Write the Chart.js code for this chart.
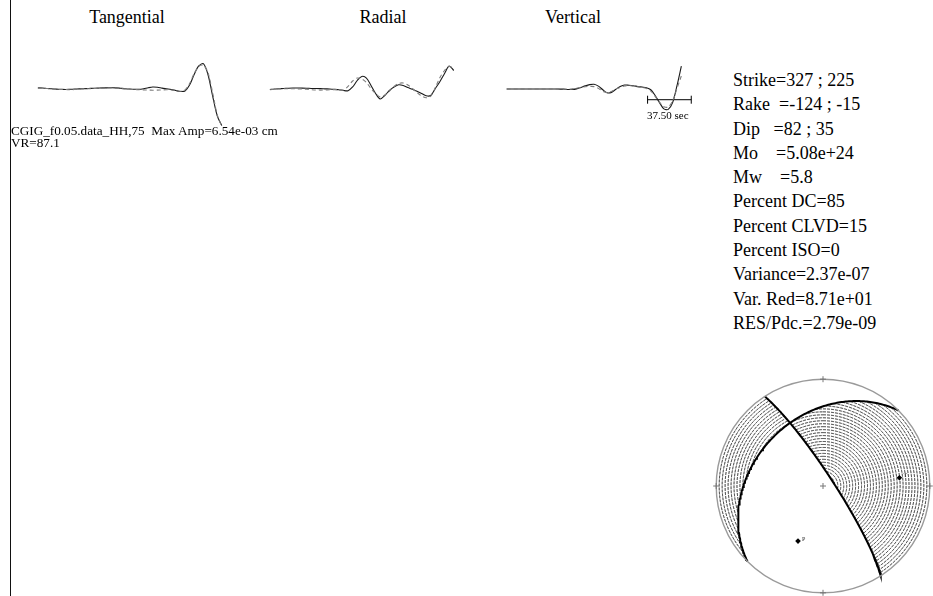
<!DOCTYPE html>
<html>
<head>
<meta charset="utf-8">
<title>CGIG moment tensor solution</title>
<script src="https://cdn.jsdelivr.net/npm/chart.js@4.4.1/dist/chart.umd.min.js"></script>
<style>
  html, body { margin: 0; padding: 0; background: #fff; overflow: hidden; width: 933px; height: 596px; }
  body { position: relative; font-family: "Liberation Serif", "Times New Roman", serif; color: #000; }
  .lbl { position: absolute; white-space: pre; line-height: 1; }
  .ttl { position: absolute; width: 200px; text-align: center; font-size: 18px; line-height: 1; }
  canvas { position: absolute; }
  #axisLine { position: absolute; left: 10px; top: 0; width: 1px; height: 596px; background: #111; }
</style>
</head>
<body>
<div id="axisLine"></div>

<div class="ttl" style="left:27px;top:8px">Tangential</div>
<div class="ttl" style="left:283px;top:8px">Radial</div>
<div class="ttl" style="left:473px;top:8px">Vertical</div>

<canvas id="tanChart" width="201" height="92" style="left:33px;top:42px"></canvas>
<canvas id="radChart" width="201" height="92" style="left:265px;top:43px"></canvas>
<canvas id="verChart" width="201" height="92" style="left:497px;top:43px"></canvas>

<div id="scaleLbl" class="lbl" style="left:647px;top:110px;font-size:11px"></div>
<div id="stationLbl" class="lbl" style="left:11px;top:125px;font-size:13.2px;line-height:11.5px"></div>
<div id="solutionLbl" class="lbl" style="left:733px;top:68px;font-size:18px;line-height:24.3px"></div>

<canvas id="ballChart" width="226" height="226" style="left:710px;top:373px"></canvas>

<script>
// ---- Source parameters (two nodal planes) ----
const strike = [327, 225];
const rake = [-124, -15];
const dip = [82, 35];
const momentDyneCm = '5.08e+24';
const magnitudeMw = '5.8';
const percentDC = 85;
const percentCLVD = 15;
const percentISO = 0;
const variance = '2.37e-07';
const varReduction = '8.71e+01';
const resPdc = '2.79e-09';

// ---- Station record ----
const stationName = 'CGIG_f0.05.data_HH,75';
const maxAmp = '6.54e-03';
const stationVR = '87.1';
const scaleBarSec = 37.5;
const scaleBarStart = 121;     // s, along the vertical trace
const scaleBarLevel = -2.09;   // amplitude level of the bar

// Sample times (s) shared by all traces
const timeSec = [0, 3.75, 7.5, 11.25, 15, 18.75, 22.5, 26.25, 30, 33.75, 37.5, 41.25, 45, 48.75,
  52.5, 56.25, 60, 63.75, 67.5, 71.25, 75, 78.75, 82.5, 86.25, 90, 93.75, 97.5, 101.25, 105,
  108.75, 112.5, 116.25, 120, 123.75, 127.5, 131.25, 135, 138.75, 142.5, 146.25, 150];

// Displacement, 1e-3 cm: observed (solid) and synthetic (dashed)
const tanObs = [0.03, 0, -0.09, -0.14, -0.19, -0.23, -0.26, -0.23, -0.19, -0.16, -0.12, -0.09, -0.05,
  -0.02, 0.02, 0.03, 0.05, 0.02, -0.05, -0.12, -0.17, -0.21, -0.23, -0.12, 0.05, 0.17, 0.12, -0.02,
  -0.14, -0.26, -0.44, -0.61, -0.52, 0.52, 2.35, 3.83, 4.23, 2.35, -1.31, -4.79, -6.54];
const tanSyn = [0.03, -0.02, -0.09, -0.17, -0.23, -0.26, -0.26, -0.30, -0.26, -0.21, -0.16, -0.12,
  -0.09, -0.05, -0.02, 0, 0, -0.03, -0.09, -0.16, -0.23, -0.26, -0.30, -0.33, -0.37, -0.38, -0.37,
  -0.33, -0.31, -0.35, -0.47, -0.57, -0.35, 0.78, 2.52, 3.74, 3.97, 2.70, -0.78, -4.61, -6.70];

const radObs = [-0.09, 0, 0.05, 0.09, 0.14, 0.17, 0.17, 0.16, 0.14, 0.10, 0.09, 0.07, 0.03, 0,
  -0.05, -0.12, -0.26, -0.30, 0.35, 1.48, 2.18, 1.91, 0.61, -0.78, -1.74, -1.13, -0.26, 0.35, 0.73,
  0.61, 0.26, -0.05, -0.40, -0.78, -1.18, -1.13, 0.09, 1.31, 2.70, 4.00, 3.22];
const radSyn = [-0.14, -0.05, 0.02, 0.03, 0.05, 0.05, 0.03, 0, -0.05, -0.12, -0.17, -0.19, -0.17,
  -0.12, -0.10, -0.12, -0.17, 0.44, 1.39, 1.91, 1.74, 1.13, 0.09, -0.78, -1.39, -1.04, -0.35, 0.44,
  0.96, 1.04, 0.70, 0.09, -0.61, -1.22, -1.53, -1.22, 0.26, 2.00, 3.22, 3.92, 3.57];

const verObs = [0, 0, 0, 0, 0, 0, 0, 0, 0, 0, 0, 0, -0.02, -0.03, -0.10, -0.10, 0.02, 0.30, 0.61,
  0.85, 0.92, 0.56, -0.14, -0.75, -0.66, -0.05, 0.47, 0.77, 0.73, 0.64, 0.50, 0.38, 0.26, -0.14,
  -1.27, -2.66, -3.88, -3.97, -2.66, 0.64, 4.47];
const verSyn = [0, 0, 0, 0, 0, 0, 0, 0, 0, 0, 0, -0.02, -0.03, -0.05, -0.05, 0.03, 0.17, 0.33, 0.44,
  0.50, 0.47, 0.12, -0.45, -0.71, -0.49, 0.03, 0.30, 0.59, 0.68, 0.56, 0.42, 0.30, 0.12, -0.40,
  -1.44, -2.58, -3.45, -3.53, -2.31, 0.12, 2.56];

// ---- Labels ----
document.getElementById('scaleLbl').textContent = scaleBarSec.toFixed(2) + ' sec';
document.getElementById('stationLbl').textContent =
  stationName + '  Max Amp=' + maxAmp + ' cm\nVR=' + stationVR;
document.getElementById('solutionLbl').textContent = [
  'Strike=' + strike[0] + ' ; ' + strike[1],
  'Rake  =' + rake[0] + ' ; ' + rake[1],
  'Dip   =' + dip[0] + ' ; ' + dip[1],
  'Mo    =' + momentDyneCm,
  'Mw    =' + magnitudeMw,
  'Percent DC=' + percentDC,
  'Percent CLVD=' + percentCLVD,
  'Percent ISO=' + percentISO,
  'Variance=' + variance,
  'Var. Red=' + varReduction,
  'RES/Pdc.=' + resPdc
].join('\n');

// ---- Waveform panels ----
const pairs = (ys) => timeSec.map((t, i) => ({ x: t, y: ys[i] }));

function traceChart(id, obs, syn, extra) {
  const datasets = [
    { data: pairs(syn), borderColor: '#7d7d7d', borderWidth: 1.1, borderDash: [4, 3], tension: 0.3 },
    { data: pairs(obs), borderColor: '#1a1a1a', borderWidth: 1.1, tension: 0.3 }
  ].concat(extra || []);
  return new Chart(document.getElementById(id), {
    type: 'scatter',
    data: { datasets },
    options: {
      responsive: false,
      animation: false,
      showLine: true,
      layout: { padding: 0 },
      elements: { point: { radius: 0, hoverRadius: 0 } },
      plugins: { legend: { display: false }, tooltip: { enabled: false } },
      scales: {
        x: { type: 'linear', min: -4, max: 160, display: false },
        y: { type: 'linear', min: -8, max: 8, display: false }
      }
    }
  });
}

traceChart('tanChart', tanObs, tanSyn);
traceChart('radChart', radObs, radSyn);
traceChart('verChart', verObs, verSyn, [{
  data: [{ x: scaleBarStart, y: scaleBarLevel }, { x: scaleBarStart + scaleBarSec, y: scaleBarLevel }],
  borderColor: '#000', borderWidth: 1, tension: 0,
  pointStyle: 'line', rotation: 90, pointRadius: 4, pointBorderColor: '#000', pointBorderWidth: 1
}]);

// ---- Focal mechanism (lower hemisphere, equal area) ----
const D2R = Math.PI / 180;

// Fault normal and slip vectors in (North, East, Down)
function faultVectors(phi, del, lam) {
  const f = phi * D2R, d = del * D2R, l = lam * D2R;
  const n = [-Math.sin(d) * Math.sin(f), Math.sin(d) * Math.cos(f), -Math.cos(d)];
  const s = [
    Math.cos(l) * Math.cos(f) + Math.cos(d) * Math.sin(l) * Math.sin(f),
    Math.cos(l) * Math.sin(f) - Math.cos(d) * Math.sin(l) * Math.cos(f),
    -Math.sin(l) * Math.sin(d)
  ];
  return { n, s };
}
const dot = (a, b) => a[0] * b[0] + a[1] * b[1] + a[2] * b[2];

// Ray direction (N,E,D) -> projected point (x east, y north)
function project(g) {
  let v = g;
  if (v[2] < 0) v = [-v[0], -v[1], -v[2]];
  const len = Math.hypot(v[0], v[1], v[2]);
  const plunge = Math.asin(Math.min(1, v[2] / len));
  const az = Math.atan2(v[1], v[0]);
  const r = Math.SQRT2 * Math.sin((Math.PI / 2 - plunge) / 2);
  return { x: r * Math.sin(az), y: r * Math.cos(az) };
}
// Projected point -> ray direction
function unproject(x, y) {
  const r = Math.hypot(x, y);
  const inc = 2 * Math.asin(Math.min(1, r / Math.SQRT2));
  const az = Math.atan2(x, y);
  return [Math.sin(inc) * Math.cos(az), Math.sin(inc) * Math.sin(az), Math.cos(inc)];
}

function nodalLine(phi, del) {
  const f = phi * D2R, d = del * D2R;
  const sv = [Math.cos(f), Math.sin(f), 0];
  const dv = [-Math.cos(d) * Math.sin(f), Math.cos(d) * Math.cos(f), Math.sin(d)];
  const pts = [];
  for (let k = 0; k <= 180; k++) {
    const t = k * D2R;
    pts.push(project([
      Math.cos(t) * sv[0] + Math.sin(t) * dv[0],
      Math.cos(t) * sv[1] + Math.sin(t) * dv[1],
      Math.cos(t) * sv[2] + Math.sin(t) * dv[2]
    ]));
  }
  return pts;
}

const fv = faultVectors(strike[0], dip[0], rake[0]);
const isCompressional = (x, y) => {
  const g = unproject(x, y);
  return dot(fv.n, g) * dot(fv.s, g) > 0;
};

// Compressional quadrants: concentric small circles, one dataset per continuous arc
const hatchRings = 36;
const hatchSets = [];
for (let k = 1; k < hatchRings; k++) {
  const r = k / hatchRings;
  let run = [];
  const flush = () => {
    if (run.length > 1) {
      hatchSets.push({ data: run, borderColor: '#000', borderWidth: 0.9, borderDash: [3, 1], tension: 0 });
    }
    run = [];
  };
  for (let a = 0; a <= 1440; a++) {
    const az = a * 0.25 * D2R;
    const x = r * Math.sin(az), y = r * Math.cos(az);
    if (isCompressional(x, y)) run.push({ x, y });
    else flush();
  }
  flush();
}

const tAxis = project([fv.n[0] + fv.s[0], fv.n[1] + fv.s[1], fv.n[2] + fv.s[2]]);
const pAxis = project([fv.n[0] - fv.s[0], fv.n[1] - fv.s[1], fv.n[2] - fv.s[2]]);

const ballFrame = {
  id: 'ballFrame',
  afterDatasetsDraw(chart) {
    const { ctx } = chart;
    const xs = chart.scales.x, ys = chart.scales.y;
    const cx = xs.getPixelForValue(0), cy = ys.getPixelForValue(0);
    const R = xs.getPixelForValue(1) - cx;
    ctx.save();
    ctx.strokeStyle = '#9a9a9a';
    ctx.lineWidth = 1.4;
    ctx.beginPath();
    ctx.arc(cx, cy, R, 0, 2 * Math.PI);
    ctx.stroke();
    // compass ticks and centre cross
    ctx.strokeStyle = '#777';
    ctx.lineWidth = 1;
    const cross = (px, py, h) => {
      ctx.beginPath();
      ctx.moveTo(px - h, py); ctx.lineTo(px + h, py);
      ctx.moveTo(px, py - h); ctx.lineTo(px, py + h);
      ctx.stroke();
    };
    cross(cx, cy, 3);
    cross(cx, cy - R, 3);
    cross(cx, cy + R, 3);
    cross(cx - R, cy, 3);
    cross(cx + R, cy, 3);
    // axis letters
    ctx.fillStyle = '#333';
    ctx.font = '6px "Liberation Serif"';
    ctx.textBaseline = 'middle';
    ctx.fillText('T', xs.getPixelForValue(tAxis.x) + 4, ys.getPixelForValue(tAxis.y) - 2);
    ctx.fillText('P', xs.getPixelForValue(pAxis.x) + 4, ys.getPixelForValue(pAxis.y) - 2);
    ctx.restore();
  }
};

new Chart(document.getElementById('ballChart'), {
  type: 'scatter',
  data: {
    datasets: hatchSets.concat([
      { data: nodalLine(strike[0], dip[0]), borderColor: '#000', borderWidth: 2, tension: 0 },
      { data: nodalLine(strike[1], dip[1]), borderColor: '#000', borderWidth: 2, tension: 0 },
      { data: [tAxis, pAxis], showLine: false, pointRadius: 2.8, pointStyle: 'rectRot',
        backgroundColor: '#000', borderColor: '#000', borderWidth: 0 }
    ])
  },
  options: {
    responsive: false,
    animation: false,
    showLine: true,
    layout: { padding: 0 },
    elements: { point: { radius: 0, hoverRadius: 0 } },
    plugins: { legend: { display: false }, tooltip: { enabled: false } },
    scales: {
      x: { type: 'linear', min: -1.032, max: 1.032, display: false },
      y: { type: 'linear', min: -1.032, max: 1.032, display: false }
    }
  },
  plugins: [ballFrame]
});
</script>
</body>
</html>
